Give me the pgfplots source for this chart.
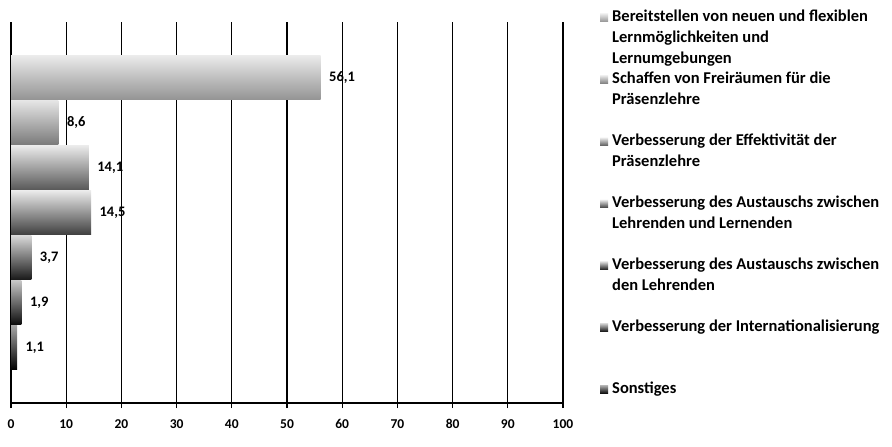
\documentclass[border=0pt]{standalone}
\usepackage{fontspec}
\setmainfont{Carlito}
\usepackage{pgfplots}
\pgfplotsset{compat=1.18}

% one legend entry: fixed height, lines kept as given
\newcommand{\entry}[1]{\parbox[t][62pt][t]{255pt}{\raggedright #1}}

\begin{document}
\begin{tikzpicture}
\begin{axis}[
  scale only axis, width=552pt, height=381pt,
  xmin=0, xmax=100, ymin=-0.233, ymax=8.233, y dir=reverse,
  xbar, bar width=44pt,
  every axis plot/.append style={bar shift=0pt, draw=none},
  xtick={0,10,...,100}, ytick=\empty,
  axis x line*=bottom, axis y line=none,
  xmajorgrids, grid style={black, line width=1.3pt},
  axis line style={black, line width=1.3pt, -},
  tick style={black, line width=1.3pt},
  tick align=outside, major tick length=5pt,
  xticklabel style={font=\fontsize{13.5}{13.5}\selectfont\bfseries, yshift=-8pt},
  /pgf/number format/assume math mode=true,
  nodes near coords,
  nodes near coords style={font=\fontsize{14.5}{14.5}\selectfont\bfseries, anchor=west, xshift=5pt,
    /pgf/number format/.cd, fixed, fixed zerofill, precision=1, use comma},
  legend style={at={(1,1)}, anchor=north west, xshift=34pt, yshift=14pt,
    draw=none, fill=none, font=\fontsize{16.5}{20.7}\selectfont\bfseries,
    row sep=0pt, column sep=4pt,
    nodes={inner sep=0pt, text depth={}}, cells={anchor=base west}},
  legend image code/.code={\fill[#1] (0pt,0pt) rectangle (8pt,8pt);},
]
\addplot[top color=black!8, middle color=black!2, bottom color=black!42] coordinates {(56.1,1)};
\addplot[top color=black!10, middle color=black!5, bottom color=black!52] coordinates {(8.6,2)};
\addplot[top color=black!8, middle color=black!8, bottom color=black!65] coordinates {(14.1,3)};
\addplot[top color=black!8, middle color=black!12, bottom color=black!75] coordinates {(14.5,4)};
\addplot[top color=black!15, middle color=black!40, bottom color=black!90] coordinates {(3.7,5)};
\addplot[top color=black!22, middle color=black!58, bottom color=black!95] coordinates {(1.9,6)};
\addplot[top color=black!35, middle color=black!75, bottom color=black] coordinates {(1.1,7)};
\addlegendentry{\entry{\mbox{Bereitstellen von neuen und flexiblen}\\\mbox{Lernmöglichkeiten und}\\\mbox{Lernumgebungen}}}
\addlegendentry{\entry{\mbox{Schaffen von Freiräumen für die}\\\mbox{Präsenzlehre}}}
\addlegendentry{\entry{\mbox{Verbesserung der Effektivität der}\\\mbox{Präsenzlehre}}}
\addlegendentry{\entry{\mbox{Verbesserung des Austauschs zwischen}\\\mbox{Lehrenden und Lernenden}}}
\addlegendentry{\entry{\mbox{Verbesserung des Austauschs zwischen}\\\mbox{den Lehrenden}}}
\addlegendentry{\entry{\mbox{Verbesserung der Internationalisierung}}}
\addlegendentry{\entry{\mbox{Sonstiges}}}
\end{axis}
\path (current axis.south west) ++(-11pt,-27pt) rectangle ++(892pt,430pt);
\end{tikzpicture}
\end{document}
